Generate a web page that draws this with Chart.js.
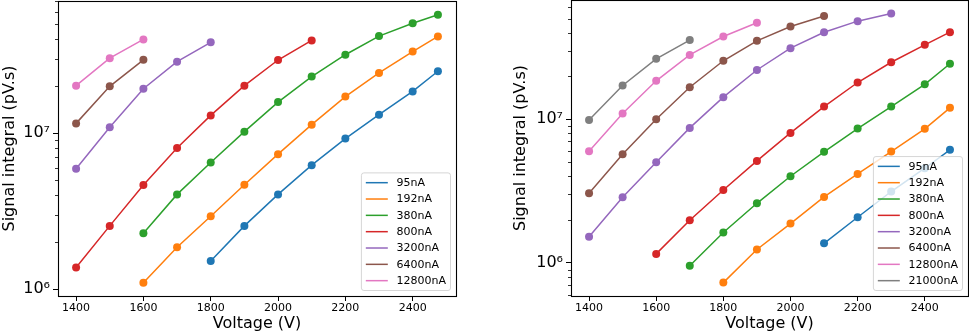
<!DOCTYPE html>
<html><head><meta charset="utf-8">
<script src="https://cdn.jsdelivr.net/npm/chart.js@4"></script>
<style>
html,body{margin:0;padding:0;background:#fff;overflow:hidden;width:969px;height:334px}
#c1{position:absolute;left:0;top:0}
#c2{position:absolute;left:484px;top:0}
</style></head><body>
<canvas id="c1" width="484" height="334"></canvas>
<canvas id="c2" width="485" height="334"></canvas>
<script>
// ---- data ----
const voltages = [1400,1500,1600,1700,1800,1900,2000,2100,2200,2300,2400,2475];
const xTicks = [1400,1600,1800,2000,2200,2400];
const yMajorTicks = [1e6, 1e7];
const yTickLabels = ['10\u2076', '10\u2077'];
const yMinorTicks = [6e5,7e5,8e5,9e5,2e6,3e6,4e6,5e6,6e6,7e6,8e6,9e6,2e7,3e7,4e7,5e7,6e7,7e7];
const seriesNamesLeft = ['95nA','192nA','380nA','800nA','3200nA','6400nA','12800nA'];
const seriesNamesRight = ['95nA','192nA','380nA','800nA','3200nA','6400nA','12800nA','21000nA'];
const colors = ['#1f77b4','#ff7f0e','#2ca02c','#d62728','#9467bd','#8c564b','#e377c2','#7f7f7f'];

const left95    = [null,null,null,null,1.52e6,2.55e6,4.06e6,6.25e6,9.25e6,1.316e7,1.855e7,2.50e7];
const left192   = [null,null,1.103e6,1.862e6,2.94e6,4.68e6,7.35e6,1.136e7,1.72e7,2.44e7,3.34e7,4.18e7];
const left380   = [null,null,2.29e6,4.06e6,6.50e6,1.025e7,1.585e7,2.31e7,3.19e7,4.20e7,5.08e7,5.75e7];
const left800   = [1.38e6,2.55e6,4.66e6,8.06e6,1.303e7,2.02e7,2.95e7,3.94e7,null,null,null,null];
const left3200  = [5.92e6,1.092e7,1.93e7,2.88e7,3.83e7,null,null,null,null,null,null,null];
const left6400  = [1.158e7,2.00e7,2.96e7,null,null,null,null,null,null,null,null,null];
const left12800 = [2.02e7,3.03e7,4.00e7,null,null,null,null,null,null,null,null,null];

const right95    = [null,null,null,null,null,null,null,1.37e6,2.08e6,3.14e6,4.56e6,6.12e6];
const right192   = [null,null,null,null,7.30e5,1.24e6,1.88e6,2.88e6,4.16e6,5.96e6,8.57e6,1.20e7];
const right380   = [null,null,null,9.57e5,1.63e6,2.60e6,4.01e6,5.93e6,8.61e6,1.225e7,1.75e7,2.43e7];
const right800   = [null,null,1.156e6,1.98e6,3.22e6,5.13e6,8.03e6,1.225e7,1.80e7,2.49e7,3.29e7,4.03e7];
const right3200  = [1.52e6,2.86e6,5.02e6,8.70e6,1.423e7,2.20e7,3.12e7,4.03e7,4.81e7,5.44e7,null,null];
const right6400  = [3.05e6,5.70e6,1.0e7,1.67e7,2.55e7,3.51e7,4.41e7,5.23e7,null,null,null,null];
const right12800 = [5.98e6,1.095e7,1.85e7,2.80e7,3.76e7,4.69e7,null,null,null,null,null,null];
const right21000 = [9.89e6,1.715e7,2.63e7,3.55e7,null,null,null,null,null,null,null,null];

const leftSeries = [left95,left192,left380,left800,left3200,left6400,left12800];
const rightSeries = [right95,right192,right380,right800,right3200,right6400,right12800,right21000];

// ---- chart setup ----
Chart.defaults.font.family = '"DejaVu Sans", sans-serif';
Chart.defaults.color = '#000';

function toPoints(vals){
  const pts = [];
  vals.forEach((v,i)=>{ if(v!==null) pts.push({x:voltages[i], y:v}); });
  return pts;
}

function zeroPad(s){ s.paddingTop = 0; s.paddingBottom = 0; s.paddingLeft = 0; s.paddingRight = 0; }

const framePlugin = {
  id:'frame',
  afterDatasetsDraw(chart){
    const ctx = chart.ctx, ca = chart.chartArea, y = chart.scales.y;
    ctx.save();
    ctx.strokeStyle = '#000';
    ctx.lineWidth = 0.8;
    ctx.beginPath();
    for(const v of yMinorTicks){
      if(v < y.min || v > y.max) continue;
      const py = Math.round(y.getPixelForValue(v)) + 0.5;
      ctx.moveTo(ca.left, py); ctx.lineTo(ca.left - 3, py);
    }
    ctx.stroke();
    ctx.lineWidth = 1.1;
    ctx.strokeRect(Math.round(ca.left)+0.5, Math.round(ca.top)+0.5, Math.round(ca.right-ca.left), Math.round(ca.bottom-ca.top));
    ctx.restore();
  }
};

const legendPlugin = {
  id:'boxLegend',
  afterDraw(chart){
    const ctx = chart.ctx, ca = chart.chartArea;
    const ds = chart.data.datasets;
    const fs = 11, row = 16.33, pad = 4.4, hl = 22, htp = 8.8;
    ctx.save();
    ctx.font = fs + 'px "DejaVu Sans"';
    const tw = Math.max(...ds.map(d => ctx.measureText(d.label).width));
    const w = pad + hl + htp + tw + pad;
    const h = ds.length * row + 3.3;
    const x0 = ca.right - 5.5 - w, y0 = ca.bottom - 5.5 - h;
    ctx.beginPath();
    ctx.roundRect(x0, y0, w, h, 2.5);
    ctx.fillStyle = 'rgba(255,255,255,0.8)';
    ctx.fill();
    ctx.strokeStyle = 'rgba(204,204,204,0.8)';
    ctx.lineWidth = 1;
    ctx.stroke();
    ds.forEach((d,i)=>{
      const cy = y0 + 9.8 + i*row;
      ctx.strokeStyle = d.borderColor;
      ctx.lineWidth = 1.5;
      ctx.beginPath();
      ctx.moveTo(x0 + pad, cy); ctx.lineTo(x0 + pad + hl, cy);
      ctx.stroke();
      ctx.fillStyle = '#000';
      ctx.textBaseline = 'middle';
      ctx.textAlign = 'left';
      ctx.fillText(d.label, x0 + pad + hl + htp, cy + 0.5);
    });
    ctx.restore();
  }
};

function makeChart(canvasId, names, series, yMin, yMax, padding, yWidth){
  const datasets = series.map((vals,i)=>({
    label: names[i],
    data: toPoints(vals),
    borderColor: colors[i],
    backgroundColor: colors[i],
    pointBackgroundColor: colors[i],
    pointBorderWidth: 0,
    pointRadius: 4,
    borderWidth: 1.5,
    tension: 0,
    order: -i
  }));
  return new Chart(document.getElementById(canvasId), {
    type: 'line',
    data: { datasets },
    plugins: [framePlugin, legendPlugin],
    options: {
      responsive: false,
      animation: false,
      devicePixelRatio: 1,
      layout: { padding, autoPadding: false },
      plugins: { legend: {display:false}, tooltip: {enabled:false} },
      scales: {
        x: {
          type: 'linear', min: 1346.25, max: 2528.75,
          afterBuildTicks: s => { s.ticks = xTicks.map(v => ({value:v})); },
          afterFit: s => { s.height = 38; zeroPad(s); },
          ticks: { font:{size:11}, color:'#000', padding:1, maxRotation:0, autoSkip:false,
                   callback: v => String(v) },
          grid: { drawOnChartArea:false, tickLength:5, tickColor:'#000', tickWidth:1 },
          border: { display:false },
          title: { display:true, text:'Voltage (V)', font:{size:16}, color:'#000', padding:{top:0,bottom:1} }
        },
        y: {
          type: 'logarithmic', min: yMin, max: yMax,
          afterBuildTicks: s => { s.ticks = yMajorTicks.map(v => ({value:v})); },
          afterFit: s => { s.width = yWidth; zeroPad(s); },
          ticks: { font:{size:16}, color:'#000', padding:3,
                   callback: v => yTickLabels[yMajorTicks.indexOf(v)] },
          grid: { drawOnChartArea:false, tickLength:5, tickColor:'#000', tickWidth:1 },
          border: { display:false },
          title: { display:true, text:'Signal integral (pV.s)', font:{size:16}, color:'#000', padding:{top:0,bottom:0} }
        }
      }
    }
  });
}

makeChart('c1', seriesNamesLeft, leftSeries, 9.06e5, 7.05e7, {left:0, top:1, right:28, bottom:0}, 58);
makeChart('c2', seriesNamesRight, rightSeries, 5.89e5, 6.75e7, {left:27, top:0, right:1, bottom:0}, 60);
</script>
</body></html>
